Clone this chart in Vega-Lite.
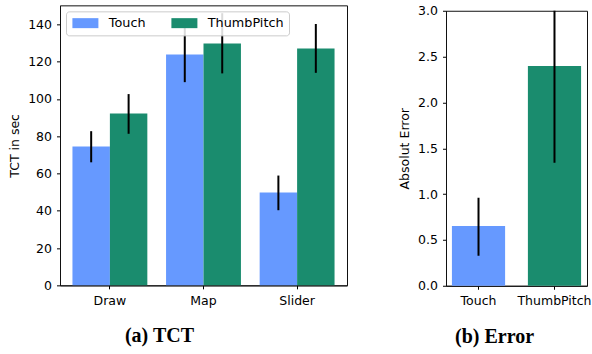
{
  "$schema": "https://vega.github.io/schema/vega-lite/v6.json",
  "background": "white",
  "padding": {"left": 8, "top": 4, "right": 2, "bottom": 2},
  "spacing": 50,
  "center": true,
  "config": {
    "font": "DejaVu Sans",
    "view": {"stroke": "#111111", "strokeWidth": 1},
    "axis": {
      "labelFont": "DejaVu Sans", "labelFontSize": 12.5, "labelColor": "#000000",
      "titleFont": "DejaVu Sans", "titleFontSize": 12.5, "titleFontWeight": "normal", "titleColor": "#000000",
      "tickColor": "#000000", "tickSize": 3.5, "tickWidth": 1, "domainColor": "#111111", "grid": false,
      "labelPadding": 5, "titlePadding": 6
    },
    "axisX": {"labelPadding": 5.5},
    "title": {"font": "Liberation Serif", "fontSize": 20, "fontWeight": "bold", "color": "#000000"}
  },
  "datasets": {
    "tct": [
      {"task": "Draw", "method": "Touch", "tct": 74.5, "lo": 66.0, "hi": 82.7},
      {"task": "Draw", "method": "ThumbPitch", "tct": 92.2, "lo": 81.3, "hi": 102.6},
      {"task": "Map", "method": "Touch", "tct": 123.9, "lo": 109.0, "hi": 139.0},
      {"task": "Map", "method": "ThumbPitch", "tct": 129.8, "lo": 113.7, "hi": 146.0},
      {"task": "Slider", "method": "Touch", "tct": 49.8, "lo": 40.3, "hi": 58.9},
      {"task": "Slider", "method": "ThumbPitch", "tct": 127.1, "lo": 114.0, "hi": 140.2}
    ],
    "err": [
      {"method": "Touch", "err": 0.651, "lo": 0.327, "hi": 0.96},
      {"method": "ThumbPitch", "err": 2.396, "lo": 1.342, "hi": 3.45}
    ]
  },
  "resolve": {"legend": {"color": "independent"}},
  "hconcat": [
    {
      "width": 287,
      "height": 280,
      "data": {"name": "tct"},
      "title": {"text": ["(a) TCT", ""], "lineHeight": 5.8, "orient": "bottom", "anchor": "middle", "frame": "group", "dx": -44, "offset": 19.5},
      "encoding": {
        "x": {
          "field": "task", "type": "nominal", "sort": ["Draw", "Map", "Slider"],
          "scale": {"paddingInner": 0.2, "paddingOuter": 0.133},
          "axis": {"title": null, "labelAngle": 0, "bandPosition": 0.5}
        },
        "xOffset": {
          "field": "method", "type": "nominal", "sort": ["Touch", "ThumbPitch"],
          "scale": {"paddingInner": 0, "paddingOuter": 0}
        }
      },
      "layer": [
        {
          "mark": {"type": "bar"},
          "encoding": {
            "y": {
              "field": "tct", "type": "quantitative",
              "scale": {"domain": [0, 150.2], "nice": false, "zero": true},
              "axis": {"title": "TCT in sec", "values": [0, 20, 40, 60, 80, 100, 120, 140], "labelOverlap": false}
            },
            "color": {
              "field": "method", "type": "nominal", "sort": ["Touch", "ThumbPitch"],
              "scale": {"domain": ["Touch", "ThumbPitch"], "range": ["#6699ff", "#1a8c6e"]},
              "legend": {
                "orient": "top-left", "offset": 6, "direction": "horizontal", "title": null,
                "symbolType": "M-1,-1H4.2V1H-1Z", "symbolSize": 100, "symbolStrokeWidth": 0, "symbolOpacity": 1,
                "labelFont": "DejaVu Sans", "labelFontSize": 12.8, "labelColor": "#000000", "labelOffset": 25,
                "columnPadding": 24, "padding": 5,
                "fillColor": "rgba(255,255,255,0.85)", "strokeColor": "#cccccc", "cornerRadius": 3
              }
            }
          }
        },
        {
          "mark": {"type": "rule", "color": "#000000", "strokeWidth": 2},
          "encoding": {
            "y": {
              "field": "lo", "type": "quantitative",
              "axis": {"title": "TCT in sec", "values": [0, 20, 40, 60, 80, 100, 120, 140], "labelOverlap": false}
            },
            "y2": {"field": "hi"}
          }
        }
      ]
    },
    {
      "width": 141,
      "height": 275,
      "data": {"name": "err"},
      "title": {"text": "(b) Error", "orient": "bottom", "anchor": "middle", "frame": "group", "dx": -22, "offset": 19.5},
      "encoding": {
        "x": {
          "field": "method", "type": "nominal", "sort": ["Touch", "ThumbPitch"],
          "scale": {"paddingInner": 0.3, "paddingOuter": 0.078},
          "axis": {"title": null, "labelAngle": 0}
        }
      },
      "layer": [
        {
          "mark": {"type": "bar"},
          "encoding": {
            "y": {
              "field": "err", "type": "quantitative",
              "scale": {"domain": [0, 3], "nice": false},
              "axis": {"title": "Absolut Error", "values": [0, 0.5, 1, 1.5, 2, 2.5, 3], "format": ".1f", "labelOverlap": false}
            },
            "color": {
              "field": "method", "type": "nominal",
              "scale": {"domain": ["Touch", "ThumbPitch"], "range": ["#6699ff", "#1a8c6e"]},
              "legend": null
            }
          }
        },
        {
          "mark": {"type": "rule", "color": "#000000", "strokeWidth": 2, "clip": true},
          "encoding": {
            "y": {
              "field": "lo", "type": "quantitative",
              "axis": {"title": "Absolut Error", "values": [0, 0.5, 1, 1.5, 2, 2.5, 3], "format": ".1f", "labelOverlap": false}
            },
            "y2": {"field": "hi"}
          }
        }
      ]
    }
  ]
}
